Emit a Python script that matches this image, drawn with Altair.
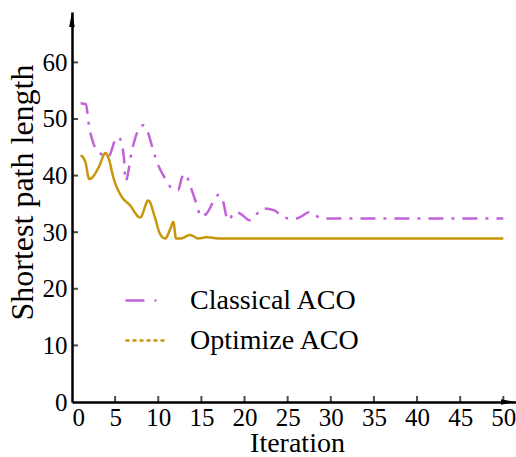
import altair as alt
import pandas as pd

series_names = ["Classical ACO", "Optimize ACO"]
series_colors = ["#C262D9", "#C8960A"]

iter_classical = [1.0, 1.6, 2.0, 2.5, 3.3, 4.2, 5.0, 5.4, 6.0, 6.2, 7.0, 7.9, 8.3, 8.85,
                  9.4, 10.0, 10.8, 11.6, 12.3, 12.7, 13.1, 13.7, 14.3, 15.0, 15.6, 17.0,
                  17.4, 18.1, 18.9, 19.5, 20.6, 22.2, 23.4, 24.5, 25.7, 26.5, 27.6, 28.8,
                  30, 35, 40, 45, 50]
len_classical = [52.8, 52.6, 48.5, 45.6, 43.9, 43.3, 46.2, 46.8, 43.5, 39.0, 44.8, 48.6, 48.9, 47.4,
                 44.5, 41.8, 39.5, 37.7, 37.4, 39.5, 40.3, 38.2, 35.6, 32.7, 33.3, 36.6,
                 36.0, 32.1, 33.6, 33.3, 32.1, 34.2, 33.9, 32.7, 32.3, 32.7, 33.6, 32.5,
                 32.4, 32.4, 32.4, 32.4, 32.4]

iter_optimize = [1.0, 1.55, 2.0, 2.3, 3.1, 3.9, 4.25, 4.83, 5.8, 6.7, 7.9, 8.85, 9.6, 10.2,
                 10.8, 11.4, 11.75, 12.06, 12.6, 13.7, 14.65, 15.6, 17, 20, 30, 40, 50]
len_optimize = [43.6, 42.4, 39.4, 39.6, 41.5, 44.0, 43.0, 39.5, 36.2, 34.8, 32.6, 35.6, 32.7, 29.7,
                28.9, 30.6, 31.8, 28.9, 28.9, 29.5, 28.9, 29.1, 28.9, 28.9, 28.9, 28.9, 28.9]

x_label_values = [0, 5, 10, 15, 20, 25, 30, 35, 40, 45, 50]
y_label_values = [0, 10, 20, 30, 40, 50, 60]
x_tick_values = [5, 10, 15, 20, 25, 30, 35, 40, 45, 50]
y_tick_values = [10, 20, 30, 40, 50, 60]

x_max = 51.47
y_max = 68.9

df = pd.concat([
    pd.DataFrame({"iteration": iter_classical, "length": len_classical, "series": series_names[0]}),
    pd.DataFrame({"iteration": iter_optimize, "length": len_optimize, "series": series_names[1]}),
])

FONT = "Times New Roman"
xscale = alt.Scale(domain=[0, x_max], nice=False, zero=False)
yscale = alt.Scale(domain=[0, y_max], nice=False, zero=False)

xaxis = alt.Axis(values=x_label_values, title="Iteration", grid=False, ticks=False, tickSize=0,
                 labelPadding=3, labelFontSize=25, labelColor="black", labelFont=FONT,
                 domainColor="black", domainWidth=2.5, titleFontSize=28, titleFont=FONT,
                 titleFontWeight="normal", titleColor="black", titleX=225, titleY=49,
                 titleBaseline="alphabetic", titleAlign="center", labelOverlap=False)
yaxis = alt.Axis(values=y_label_values, title="Shortest path length", grid=False, ticks=False,
                 tickSize=0, labelPadding=5, labelFontSize=25, labelColor="black", labelFont=FONT,
                 domainColor="black", domainWidth=2.5, titleFontSize=32, titleFont=FONT,
                 titleFontWeight="normal", titleColor="black", titleX=-40, titleY=180,
                 titleBaseline="alphabetic", titleAlign="center", titleAngle=270, labelOverlap=False)

lines = alt.Chart(df).mark_line(interpolate="monotone", strokeWidth=2.5).encode(
    x=alt.X("iteration:Q", scale=xscale, axis=xaxis),
    y=alt.Y("length:Q", scale=yscale, axis=yaxis),
    color=alt.Color("series:N", scale=alt.Scale(domain=series_names, range=series_colors), legend=None),
    strokeDash=alt.StrokeDash("series:N", scale=alt.Scale(domain=series_names, range=[[15, 8, 3, 8], [1, 0]]), legend=None),
)

legend_def = alt.Legend(title=None, orient="none", legendX=52, legendY=267, symbolType="stroke",
                        symbolSize=1600, symbolStrokeWidth=2.5, labelFontSize=28, labelFont=FONT,
                        labelColor="black", labelOffset=23, rowPadding=4, padding=0, labelLimit=400)

legend_layer = alt.Chart(df).transform_filter("false").mark_line(strokeWidth=2.5).encode(
    x=alt.X("iteration:Q", scale=xscale),
    y=alt.Y("length:Q", scale=yscale),
    color=alt.Color("series:N", scale=alt.Scale(domain=series_names, range=series_colors), legend=legend_def),
    strokeDash=alt.StrokeDash("series:N", scale=alt.Scale(domain=series_names, range=[[19, 10, 2, 10], [4, 3]]), legend=legend_def),
)

xticks = alt.Chart(pd.DataFrame({"v": x_tick_values})).mark_tick(
    orient="vertical", size=6, thickness=2, yOffset=-3, color="black").encode(
    x=alt.X("v:Q", scale=xscale), y=alt.datum(0))
yticks = alt.Chart(pd.DataFrame({"v": y_tick_values})).mark_tick(
    orient="horizontal", size=6, thickness=2, xOffset=3, color="black").encode(
    y=alt.Y("v:Q", scale=yscale), x=alt.datum(0))

one = pd.DataFrame({"a": [0]})
arrow_up = alt.Chart(one).mark_point(shape="M0,-1L0.37,1L-0.37,1Z", size=225, filled=True,
                                     color="black", opacity=1, yOffset=7.5).encode(
    x=alt.datum(0), y=alt.datum(y_max))
arrow_right = alt.Chart(one).mark_point(shape="M1,0L-1,-0.37L-1,0.37Z", size=225, filled=True,
                                        color="black", opacity=1, xOffset=-7.5).encode(
    x=alt.datum(x_max), y=alt.datum(0))

chart = alt.layer(lines, legend_layer, xticks, yticks, arrow_up, arrow_right).resolve_scale(
    strokeDash="independent", color="independent"
).properties(
    width=444, height=390, padding={"left": 72, "top": 12, "right": 0, "bottom": 55},
    autosize=alt.AutoSizeParams(type="none"), background="white"
).configure_view(stroke=None)

chart.save("out.html", embed_options={"renderer": "svg", "actions": False})
